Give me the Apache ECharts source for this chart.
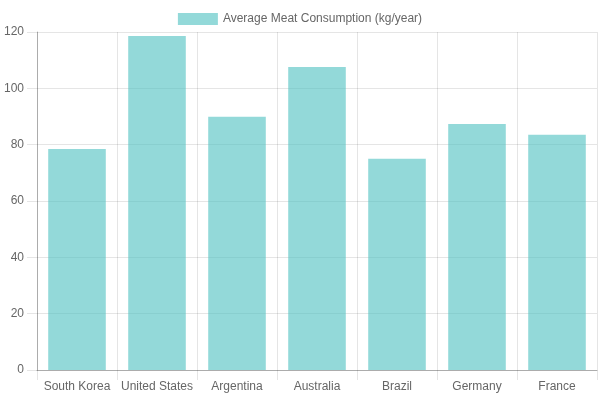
<!DOCTYPE html>
<html>
<head>
<meta charset="utf-8">
<script src="https://cdn.jsdelivr.net/npm/echarts@6/dist/echarts.min.js"></script>
<style>
  html, body { margin: 0; padding: 0; background: #fff; }
  #chart { width: 600px; height: 400px; }
</style>
</head>
<body>
<div id="chart"></div>
<script>
    var countries = ['South Korea', 'United States', 'Argentina', 'Australia', 'Brazil', 'Germany', 'France'];
    var meatKg = [78.5, 118.6, 89.9, 107.6, 75.0, 87.3, 83.5];
    var seriesName = 'Average Meat Consumption (kg/year)';

    var chart = echarts.init(document.getElementById('chart'));

    var option = {
        animation: false,
        textStyle: { fontFamily: 'Liberation Sans, Arial, sans-serif' },
        legend: {
            top: 8,
            left: 'center',
            itemWidth: 40,
            itemHeight: 12,
            icon: 'rect',
            textStyle: { color: '#666', fontSize: 12 },
            data: [seriesName]
        },
        grid: { left: 37, right: 3, top: 32, bottom: 30 },
        xAxis: {
            type: 'category',
            data: countries,
            axisLine: { lineStyle: { color: 'rgba(0,0,0,0.25)' } },
            axisTick: { show: true, interval: 0, length: 10, lineStyle: { color: 'rgba(0,0,0,0.1)' } },
            splitLine: { show: true, interval: 0, lineStyle: { color: 'rgba(0,0,0,0.1)' } },
            axisLabel: { color: '#666', fontSize: 12, margin: 11, interval: 0 }
        },
        yAxis: {
            type: 'value',
            min: 0,
            max: 120,
            interval: 20,
            axisLine: { show: true, lineStyle: { color: 'rgba(0,0,0,0.25)' } },
            axisTick: { show: true, length: 10, lineStyle: { color: 'rgba(0,0,0,0.1)' } },
            splitLine: { show: true, lineStyle: { color: 'rgba(0,0,0,0.1)' } },
            axisLabel: { color: '#666', fontSize: 12, margin: 13 }
        },
        series: [
            {
                name: seriesName,
                type: 'bar',
                data: meatKg,
                barWidth: '72%',
                itemStyle: {
                    color: 'rgba(75,192,192,0.6)'
                }
            }
        ]
    };
    chart.setOption(option);
</script>
</body>
</html>
